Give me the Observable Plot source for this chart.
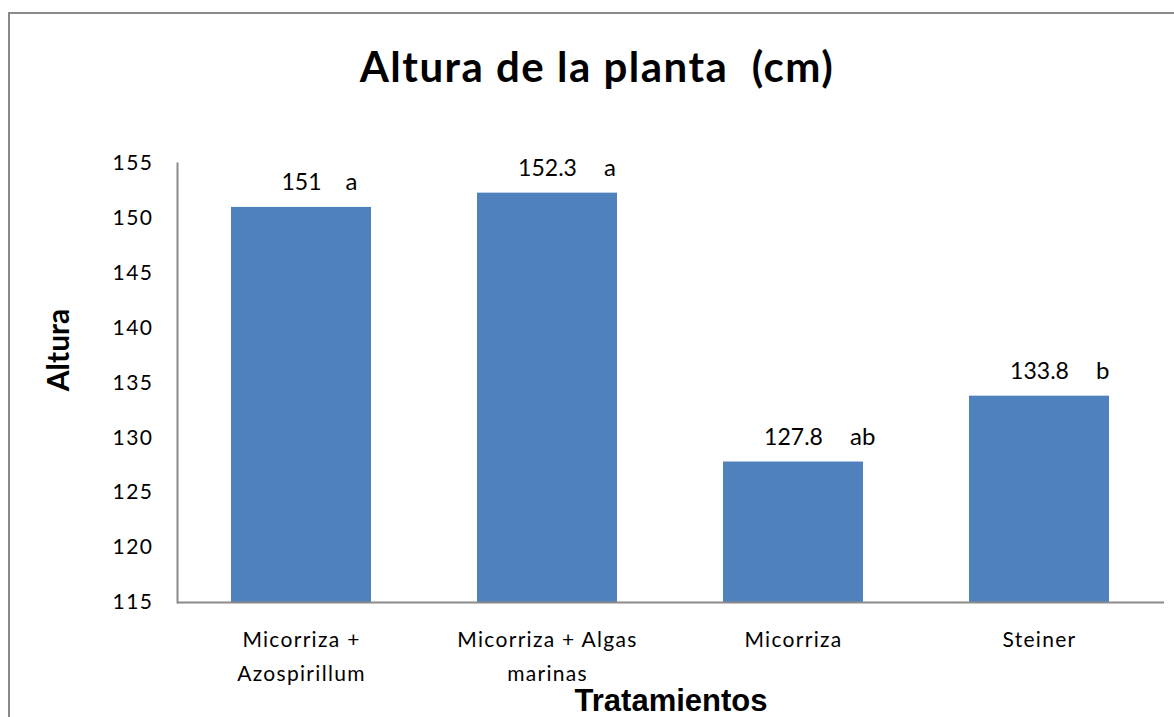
<!DOCTYPE html>
<html>
<head>
<meta charset="utf-8">
<script src="https://cdn.jsdelivr.net/npm/d3@7"></script>
<script src="https://cdn.jsdelivr.net/npm/@observablehq/plot@0.6"></script>
<style>
  html, body { margin: 0; padding: 0; background: #fff; overflow: hidden; }
  #wrap { position: relative; width: 1174px; height: 717px; }
  #border { position: absolute; left: 8px; top: 12px; width: 1300px; height: 900px; border: 2px solid #8a8a8a; box-sizing: border-box; }
  #title { position: absolute; left: 0; width: 1194px; top: 40px; text-align: center; font-family: Lato, sans-serif; font-weight: 700; font-size: 42px; letter-spacing: 1.5px; color: #000; white-space: pre; line-height: 52px; }
  #chart { position: absolute; left: 0; top: 0; }
  g[aria-label="x-axis tick label"] text { letter-spacing: 1.3px; }
  g[aria-label="y-axis tick label"] text { letter-spacing: 1.5px; }
</style>
</head>
<body>
<div id="wrap">
  <div id="border"></div>
  <div id="title">Altura de la planta  (cm)</div>
  <div id="chart"></div>
</div>
<script>
const categories = ["Micorriza + Azospirillum", "Micorriza + Algas marinas", "Micorriza", "Steiner"];
const tickLabels = ["Micorriza +\nAzospirillum", "Micorriza + Algas\nmarinas", "Micorriza", "Steiner"];
const values = [151, 152.3, 127.8, 133.8];
const valueLabels = ["151", "152.3", "127.8", "133.8"];
const letters = ["a", "a", "ab", "b"];
const yTicks = [115, 120, 125, 130, 135, 140, 145, 150, 155];

const data = categories.map((c, i) => ({cat: c, value: values[i], label: valueLabels[i], letter: letters[i]}));
const labelMap = new Map(categories.map((c, i) => [c, tickLabels[i]]));

const letterMarks = data.map(d => Plot.text([d], {
  x: "cat", y: "value", text: "letter",
  textAnchor: "start", lineAnchor: "bottom",
  dx: d.label.length * 6.3 + 25, dy: -17,
  fontSize: 24, fill: "#000", fontFamily: "Lato, sans-serif"
}));

const chart = Plot.plot({
  width: 1174,
  height: 717,
  marginLeft: 177,
  marginRight: 10,
  marginTop: 163,
  marginBottom: 115,
  style: { fontFamily: "Lato, sans-serif", background: "transparent", overflow: "visible" },
  x: { domain: categories, paddingInner: 0.43, paddingOuter: 0.215, label: null },
  y: { domain: [115, 155], label: null },
  marks: [
    Plot.barY(data, { x: "cat", y1: 115, y2: "value", fill: "#4F81BD" }),
    Plot.ruleY([115], { stroke: "#8a8a8a", strokeWidth: 2 }),
    Plot.frame({ anchor: "left", stroke: "#8a8a8a", strokeWidth: 2 }),
    Plot.axisY(yTicks, { tickSize: 0, tickPadding: 24, fontSize: 21, fill: "#000", label: null }),
    Plot.axisX({ tickSize: 0, tickPadding: 20, fontSize: 21, lineHeight: 1.62, fill: "#000",
      tickFormat: d => labelMap.get(d), label: null }),
    Plot.text(data, { x: "cat", y: "value", text: "label", lineAnchor: "bottom", dy: -17,
      fontSize: 23, fill: "#000", fontFamily: "Lato, sans-serif" }),
    ...letterMarks,
    Plot.text(["Tratamientos"], { frameAnchor: "bottom", dy: 99, lineAnchor: "middle",
      fontSize: 31, fontWeight: "bold", fontFamily: "Liberation Sans, Arial, sans-serif", fill: "#000", letterSpacing: 0.3 }),
    Plot.text(["Altura"], { frameAnchor: "left", textAnchor: "middle", dx: -118, dy: -33, rotate: -90,
      fontSize: 30, fontWeight: "bold", fontFamily: "Lato, sans-serif", fill: "#000", letterSpacing: 1.5 })
  ]
});
document.getElementById("chart").appendChild(chart);
</script>
</body>
</html>
